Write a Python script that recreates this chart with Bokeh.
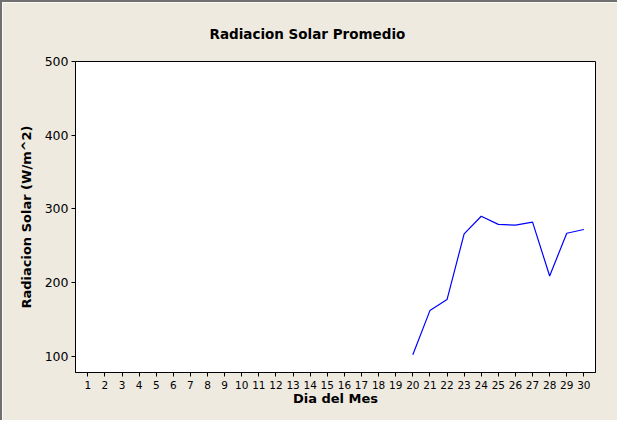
import math
from bokeh.plotting import figure
from bokeh.models import FixedTicker, Range1d
from bokeh.embed import file_html
from bokeh.resources import INLINE

# ---- data ----
days = list(range(1, 31))
radiation = [None] * 19 + [102, 162, 177, 266, 290, 279, 278, 282, 209, 267, 272]
y_ticks = [100, 200, 300, 400, 500]

title_text = "Radiacion Solar Promedio"
x_label = "Dia del Mes"
y_label = "Radiacion Solar (W/m^2)"

FONT = "DejaVu Sans"
BEIGE = "#EEEAE0"

ys = [float("nan") if v is None else v for v in radiation]

p = figure(width=617, height=420, output_backend="svg", toolbar_location=None,
           x_range=Range1d(0.28, 30.68), y_range=Range1d(78, 500),
           min_border_left=73, min_border_right=24, min_border_top=59, min_border_bottom=50,
           title=title_text)

p.styles = {"border-top": "2px solid #707070", "border-left": "2px solid #707070"}

p.border_fill_color = BEIGE
p.background_fill_color = "white"
p.outline_line_color = "black"
p.outline_line_width = 1

p.title.text_font = FONT
p.title.text_font_size = "13.5px"
p.title.text_font_style = "bold"
p.title.align = "left"
p.title.offset = 134
p.title.standoff = 39
p.title.text_color = "black"

p.line(days, ys, line_color="#0000FF", line_width=1.2)

p.xgrid.visible = False
p.ygrid.visible = False

p.xaxis.ticker = FixedTicker(ticks=days)
p.yaxis.ticker = FixedTicker(ticks=y_ticks)

for ax in (p.xaxis[0], p.yaxis[0]):
    ax.axis_line_color = "black"
    ax.major_tick_line_color = "black"
    ax.minor_tick_line_color = None
    ax.major_tick_out = 4
    ax.major_tick_in = 0
    ax.major_label_text_font = FONT
    ax.major_label_text_color = "black"
    ax.axis_label_text_font = FONT
    ax.axis_label_text_font_style = "bold"
    ax.axis_label_text_font_size = "13px"
    ax.axis_label_text_color = "black"

p.xaxis.axis_label = x_label
p.yaxis.axis_label = y_label
p.xaxis.major_label_text_font_size = "10.5px"
p.yaxis.major_label_text_font_size = "12.5px"
p.xaxis.major_label_standoff = 4
p.yaxis.major_label_standoff = 3
p.xaxis.axis_label_standoff = -1
p.yaxis.axis_label_standoff = 8

open("out.html", "w").write(file_html(p, INLINE))
